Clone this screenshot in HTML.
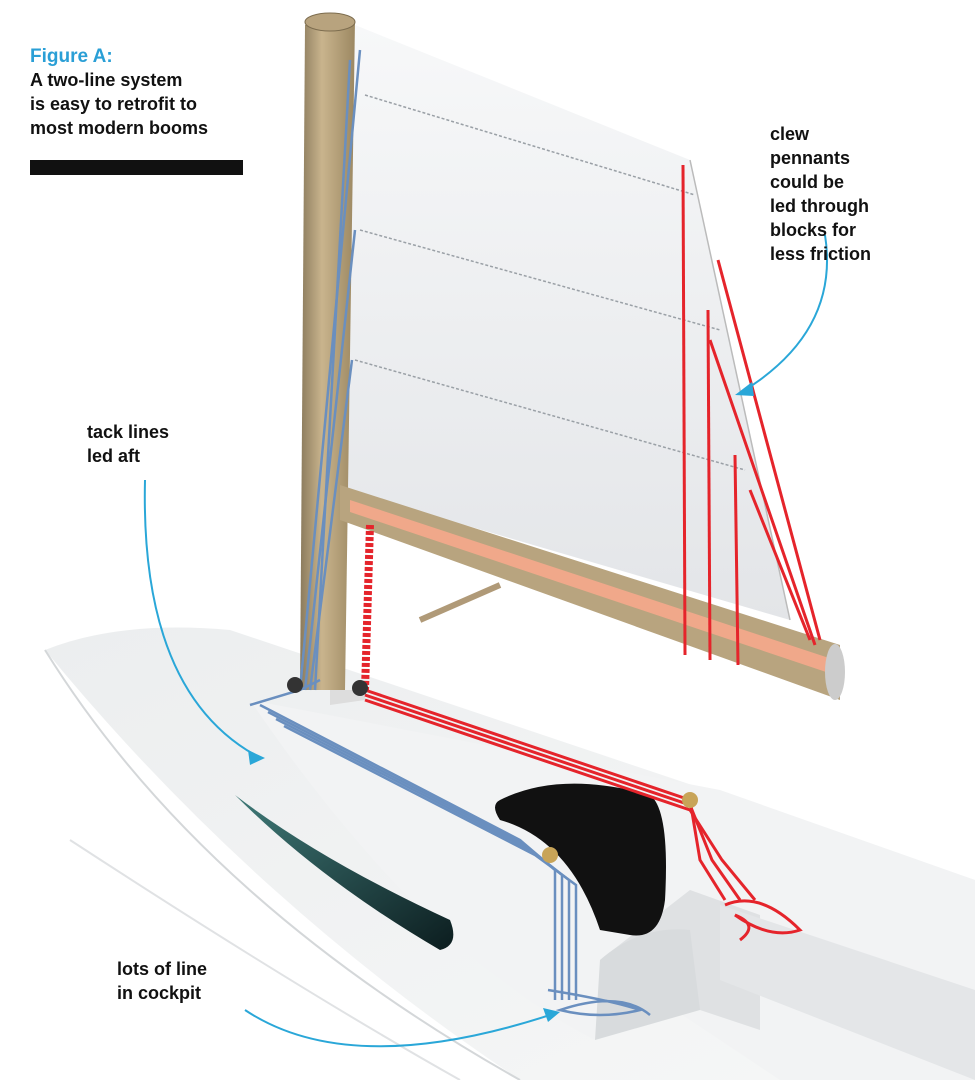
<!DOCTYPE html>
<html><head><meta charset="utf-8"><style>
html,body{margin:0;padding:0;background:#fff;}
svg{display:block;}
text{font-family:"Liberation Sans",sans-serif;font-weight:bold;}
</style></head><body>
<svg width="975" height="1080" viewBox="0 0 975 1080" xmlns="http://www.w3.org/2000/svg">
<defs>
<linearGradient id="mast" x1="0" x2="1"><stop offset="0" stop-color="#8a7a5c"/><stop offset="0.4" stop-color="#c9b48d"/><stop offset="1" stop-color="#9c8862"/></linearGradient>
<linearGradient id="sail" x1="0" y1="0" x2="0" y2="1"><stop offset="0" stop-color="#f7f8f9"/><stop offset="1" stop-color="#e3e5e8"/></linearGradient>
<linearGradient id="deck" x1="0" y1="0" x2="1" y2="1"><stop offset="0" stop-color="#eceeef"/><stop offset="1" stop-color="#f6f7f7"/></linearGradient>
<linearGradient id="win" x1="0" y1="0" x2="1" y2="1"><stop offset="0" stop-color="#3f7a78"/><stop offset="1" stop-color="#0c1d1f"/></linearGradient>
</defs>
<rect width="975" height="1080" fill="#fff"/>
<!-- hull / deck -->
<path d="M45,650 Q120,620 230,630 L975,880 L975,1080 L520,1080 Q250,900 45,650 Z" fill="url(#deck)"/>
<path d="M45,650 Q200,900 520,1080" fill="none" stroke="#d4d7d9" stroke-width="2"/>
<path d="M70,840 Q300,990 460,1080" fill="none" stroke="#e0e2e4" stroke-width="2"/>
<!-- cabin -->
<path d="M250,700 L720,790 L975,880 L975,1080 L780,1080 L600,960 L595,1040 Q420,950 250,700 Z" fill="#f2f3f4"/>
<path d="M600,960 L690,890 L760,915 L760,1030 L700,1010 Z" fill="#dfe1e3"/>
<path d="M720,905 L975,990 L975,1080 L720,980 Z" fill="#e4e6e8"/>
<path d="M595,1040 L600,960 Q640,925 690,930 L700,1010 Z" fill="#d8dbdd"/>
<!-- hatch -->
<path d="M500,800 Q560,770 650,795 Q670,810 665,900 Q660,940 630,935 L600,930 Q570,840 500,820 Q490,805 500,800 Z" fill="#111"/>
<!-- window -->
<path d="M235,795 Q320,860 450,920 Q460,945 440,950 Q320,880 235,795 Z" fill="url(#win)"/>
<!-- sail -->
<path d="M355,25 L690,160 L790,620 L345,490 Z" fill="url(#sail)"/>
<path d="M690,160 L790,620" stroke="#bbb" stroke-width="1.5"/>
<g stroke="#9aa0a6" stroke-width="1.5" stroke-dasharray="3,2" fill="none">
<path d="M365,95 L695,195"/><path d="M360,230 L720,330"/><path d="M355,360 L745,470"/>
</g>
<!-- mast -->
<path d="M305,25 L355,20 L345,690 L300,690 Z" fill="url(#mast)"/>
<ellipse cx="330" cy="22" rx="25" ry="9" fill="#b8a37e" stroke="#7d6d4f"/>
<path d="M330,690 L365,690 L365,700 L330,705 Z" fill="#ddd"/>
<!-- boom -->
<path d="M340,485 L840,645 L840,700 L340,520 Z" fill="#b8a47f"/>
<path d="M350,500 L835,660 L835,675 L350,512 Z" fill="#f0a88a"/>
<ellipse cx="835" cy="672" rx="10" ry="28" fill="#ccc"/>
<path d="M420,620 L500,585" stroke="#b09a78" stroke-width="6"/>
<!-- blue lines -->
<g stroke="#6a8fbf" stroke-width="2.5" fill="none">
<path d="M360,50 L300,690"/><path d="M355,230 L305,690"/><path d="M352,360 L310,690"/><path d="M350,60 L315,690"/>
<path d="M260,705 L520,840 L555,870 L555,1000"/>
<path d="M268,712 L525,845 L562,875 L562,1000"/>
<path d="M276,719 L530,850 L569,880 L569,1000"/>
<path d="M284,726 L535,855 L576,885 L576,1000"/>
<path d="M250,705 L300,690 L320,680"/>
<path d="M548,990 Q610,1000 640,1010 Q600,1020 560,1010 Q620,990 650,1015"/>
</g>
<!-- red lines -->
<g stroke="#e5242b" stroke-width="3" fill="none">
<path d="M370,525 L365,690" stroke-width="8" stroke-dasharray="4,2"/>
<path d="M365,690 L690,800 L700,860 L725,900" />
<path d="M365,695 L690,805 L712,860 L740,900"/>
<path d="M365,700 L690,810 L722,860 L755,900"/>
<path d="M683,165 L685,655"/><path d="M708,310 L710,660"/><path d="M735,455 L738,665"/>
<path d="M718,260 L820,640"/><path d="M710,340 L815,645"/><path d="M750,490 L810,640"/>
<path d="M725,905 Q760,890 800,930 Q770,940 735,915 Q760,925 740,940"/>
</g>
<circle cx="550" cy="855" r="8" fill="#c8a458"/>
<circle cx="690" cy="800" r="8" fill="#c8a458"/>
<circle cx="295" cy="685" r="8" fill="#333"/><circle cx="360" cy="688" r="8" fill="#333"/>
<!-- arrows -->
<g stroke="#2aa7d8" stroke-width="2" fill="none">
<path d="M145,480 Q140,690 255,755"/>
<path d="M825,235 Q840,330 745,390"/>
<path d="M245,1010 Q350,1080 550,1015"/>
</g>
<g fill="#2aa7d8">
<path d="M265,758 L248,750 L250,765 Z"/><path d="M735,395 L752,382 L754,396 Z"/><path d="M560,1012 L543,1008 L548,1022 Z"/>
</g>
<!-- text -->
<text x="30" y="62" font-size="19" fill="#2a9fd6">Figure A:</text>
<text font-size="18" fill="#111"><tspan x="30" y="86">A two-line system</tspan><tspan x="30" y="110">is easy to retrofit to</tspan><tspan x="30" y="134">most modern booms</tspan></text>
<rect x="30" y="160" width="213" height="15" fill="#111"/>
<text font-size="18" fill="#111" font-weight="normal"><tspan x="770" y="140">clew</tspan><tspan x="770" y="164">pennants</tspan><tspan x="770" y="188">could be</tspan><tspan x="770" y="212">led through</tspan><tspan x="770" y="236">blocks for</tspan><tspan x="770" y="260">less friction</tspan></text>
<text font-size="18" fill="#111"><tspan x="87" y="438">tack lines</tspan><tspan x="87" y="462">led aft</tspan></text>
<text font-size="18" fill="#111"><tspan x="117" y="975">lots of line</tspan><tspan x="117" y="999">in cockpit</tspan></text>
</svg>
</body></html>
